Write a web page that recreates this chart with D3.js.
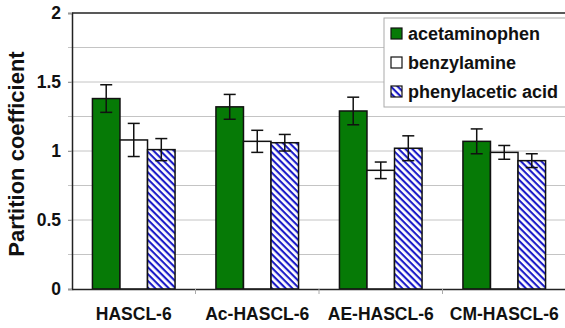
<!DOCTYPE html>
<html>
<head>
<meta charset="utf-8">
<script src="https://cdn.jsdelivr.net/npm/d3@7"></script>
<style>
  body { margin: 0; background: #fff; }
  svg { display: block; font-family: Arial, "Liberation Sans", sans-serif; font-weight: bold; }
</style>
</head>
<body>
<div id="vis"></div>
<script>
const width = 565;
const height = 328;

// data
const categories = ["HASCL-6", "Ac-HASCL-6", "AE-HASCL-6", "CM-HASCL-6"];
const seriesNames = ["acetaminophen", "benzylamine", "phenylacetic acid"];
const acetaminophen = [1.38, 1.32, 1.29, 1.07];
const acetaminophenErr = [0.10, 0.09, 0.10, 0.09];
const benzylamine = [1.08, 1.07, 0.86, 0.99];
const benzylamineErr = [0.12, 0.08, 0.06, 0.05];
const phenylacetic = [1.01, 1.06, 1.02, 0.93];
const phenylaceticErr = [0.08, 0.06, 0.09, 0.05];
const yTicks = [0, 0.5, 1, 1.5, 2];
const yGrid = [0.25, 0.5, 0.75, 1, 1.25, 1.5, 1.75];

const values = [acetaminophen, benzylamine, phenylacetic];
const errors = [acetaminophenErr, benzylamineErr, phenylaceticErr];

const margin = {top: 13, right: -1, bottom: 39, left: 72};
const font = "Arial, 'Liberation Sans', sans-serif";

const svg = d3.select("#vis").append("svg")
    .attr("width", width)
    .attr("height", height);

// hatch for the third series
const defs = svg.append("defs");
const pat = defs.append("pattern")
    .attr("id", "hatch")
    .attr("patternUnits", "userSpaceOnUse")
    .attr("width", 4.8)
    .attr("height", 4.8)
    .attr("patternTransform", "rotate(45)");
pat.append("rect").attr("width", 4.8).attr("height", 4.8).attr("fill", "#fff");
pat.append("rect").attr("width", 4.8).attr("height", 2.1).attr("fill", "#1c1cc8");

const fills = ["#067a06", "#fff", "url(#hatch)"];

const x = d3.scaleBand()
    .domain(categories)
    .range([margin.left, width - margin.right])
    .paddingInner(0)
    .paddingOuter(0);

const y = d3.scaleLinear()
    .domain([0, 2])
    .range([height - margin.bottom, margin.top]);

const barW = x.bandwidth() * 0.223;
const xs = d3.scaleBand()
    .domain(d3.range(3))
    .range([0, barW * 3]);

// gridlines (stick out a little left of the axis as ticks)
svg.append("g")
  .selectAll("line")
  .data(yGrid)
  .join("line")
    .attr("x1", margin.left - 4)
    .attr("x2", width)
    .attr("y1", d => y(d))
    .attr("y2", d => y(d))
    .attr("stroke", "#c4c4c4")
    .attr("stroke-width", 1);

// top border
svg.append("line")
    .attr("x1", margin.left).attr("x2", width)
    .attr("y1", y(2)).attr("y2", y(2))
    .attr("stroke", "#222").attr("stroke-width", 1.5);

// y axis
const yAxis = svg.append("g")
    .attr("transform", `translate(${margin.left},0)`)
    .call(d3.axisLeft(y).tickValues(yTicks).tickFormat(d3.format("")).tickSize(4).tickPadding(7));
yAxis.select(".domain").attr("stroke", "#222").attr("stroke-width", 1.5);
yAxis.selectAll(".tick line").attr("stroke", "#999");
yAxis.selectAll("text")
    .attr("font-size", 17.5)
    .attr("font-weight", "bold")
    .attr("font-family", font)
    .attr("fill", "#111");

// bars
const groups = svg.append("g")
  .selectAll("g")
  .data(categories)
  .join("g")
    .attr("transform", d => `translate(${x(d) + (x.bandwidth() - barW * 3) / 2},0)`);

groups.each(function(cat, ci) {
  const g = d3.select(this);
  values.forEach((vals, si) => {
    g.append("rect")
        .attr("x", xs(si))
        .attr("y", y(vals[ci]))
        .attr("width", xs.bandwidth())
        .attr("height", y(0) - y(vals[ci]))
        .attr("fill", fills[si])
        .attr("stroke", "#111")
        .attr("stroke-width", 1.5);
  });
  values.forEach((vals, si) => {
    const cx = xs(si) + xs.bandwidth() / 2;
    const hi = y(vals[ci] + errors[si][ci]);
    const lo = y(vals[ci] - errors[si][ci]);
    g.append("line").attr("x1", cx).attr("x2", cx).attr("y1", hi).attr("y2", lo)
        .attr("stroke", "#111").attr("stroke-width", 1.5);
    [hi, lo].forEach(yy => {
      g.append("line").attr("x1", cx - 6).attr("x2", cx + 6).attr("y1", yy).attr("y2", yy)
          .attr("stroke", "#111").attr("stroke-width", 1.5);
    });
  });
});

// x axis
const xAxis = svg.append("g")
    .attr("transform", `translate(0,${y(0)})`)
    .call(d3.axisBottom(x).tickSize(0).tickPadding(19));
xAxis.select(".domain").attr("stroke", "#222").attr("stroke-width", 1.5);
xAxis.selectAll("text")
    .attr("font-size", 17.5)
    .attr("font-weight", "bold")
    .attr("font-family", font)
    .attr("fill", "#111");
// boundary ticks between categories
svg.append("g")
  .selectAll("line")
  .data(categories.slice(1))
  .join("line")
    .attr("x1", d => x(d)).attr("x2", d => x(d))
    .attr("y1", y(0)).attr("y2", y(0) + 5)
    .attr("stroke", "#aaa");

// y label
svg.append("text")
    .attr("transform", `translate(16,154) rotate(-90)`)
    .attr("text-anchor", "middle")
    .attr("dy", "0.35em")
    .attr("font-size", 22)
    .attr("fill", "#111")
    .text("Partition coefficient");

// legend
const legend = svg.append("g").attr("transform", "translate(384,18)");
legend.append("rect")
    .attr("width", 190).attr("height", 89)
    .attr("fill", "#fff").attr("stroke", "#aaa");
const item = legend.selectAll("g.item")
  .data(seriesNames)
  .join("g")
    .attr("class", "item")
    .attr("transform", (d, i) => `translate(7,${16 + i * 29})`);
item.append("rect")
    .attr("x", 0).attr("y", -6)
    .attr("width", 11).attr("height", 11)
    .attr("fill", (d, i) => fills[i])
    .attr("stroke", "#111").attr("stroke-width", 1.2);
item.append("text")
    .attr("x", 17).attr("dy", "0.35em")
    .attr("font-size", 18)
    .attr("fill", "#111")
    .text(d => d);
</script>
</body>
</html>
